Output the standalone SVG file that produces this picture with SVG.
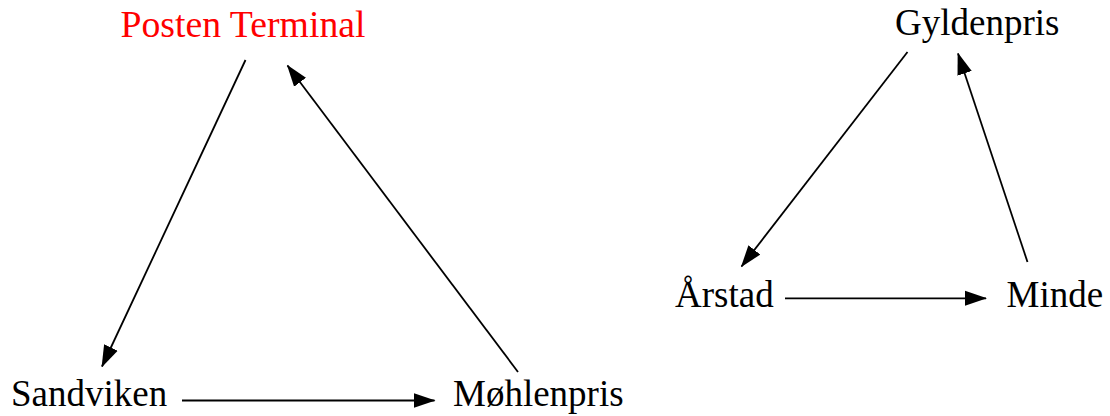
<svg xmlns="http://www.w3.org/2000/svg" width="1110" height="416" viewBox="0 0 1110 416">
<style>
.lbl { font-family: "Liberation Serif", "Times New Roman", serif; font-size: 37px; fill: #000; }
.red { fill: #FF0000; }
.edge { stroke: #000; stroke-width: 1.8; fill: none; marker-end: url(#arr); }
</style>
<defs>
<marker id="arr" markerUnits="userSpaceOnUse" markerWidth="22" markerHeight="16" refX="21" refY="8" orient="auto">
<path d="M0,0.5 L22,8 L0,15.5 z" fill="#000"/>
</marker>
</defs>
<rect width="1110" height="416" fill="#fff"/>
<g id="connectors">
<line class="edge" x1="245.5" y1="60" x2="102" y2="366.5"/>
<line class="edge" x1="518" y1="372" x2="287.5" y2="65.5"/>
<line class="edge" x1="182" y1="400.5" x2="434.5" y2="400.5"/>
<line class="edge" x1="907.5" y1="52" x2="741.5" y2="266.5"/>
<line class="edge" x1="1027.5" y1="262" x2="958" y2="53.5"/>
<line class="edge" x1="785" y1="298.3" x2="986" y2="298.3"/>
</g>
<g id="node-posten-terminal"><text class="lbl red" x="120.5" y="37" textLength="245" lengthAdjust="spacingAndGlyphs">Posten Terminal</text></g>
<g id="node-sandviken"><text class="lbl" x="11" y="406">Sandviken</text></g>
<g id="node-mohlenpris"><text class="lbl" x="453" y="406">Møhlenpris</text></g>
<g id="node-gyldenpris"><text class="lbl" x="895" y="35">Gyldenpris</text></g>
<g id="node-arstad"><text class="lbl" x="675" y="306.5">Årstad</text></g>
<g id="node-minde"><text class="lbl" x="1006.5" y="306.5">Minde</text></g>
</svg>
